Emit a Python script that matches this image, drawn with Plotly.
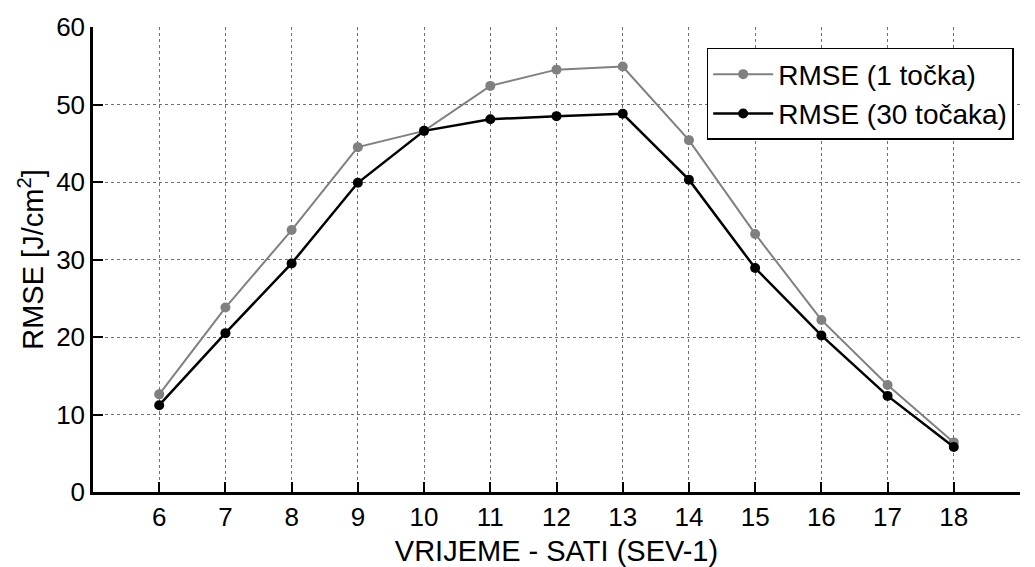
import plotly.graph_objects as go

hours = [6, 7, 8, 9, 10, 11, 12, 13, 14, 15, 16, 17, 18]
rmse_1 = [12.6, 23.8, 33.8, 44.5, 46.6, 52.4, 54.5, 54.9, 45.4, 33.3, 22.2, 13.8, 6.4]
rmse_30 = [11.2, 20.5, 29.5, 39.9, 46.6, 48.1, 48.5, 48.8, 40.3, 28.9, 20.2, 12.4, 5.8]
names = ["RMSE (1 točka)", "RMSE (30 točaka)"]

FONT = "Liberation Sans, Arial"

fig = go.Figure()
fig.add_trace(go.Scatter(x=hours, y=rmse_1, name=names[0], mode="lines+markers",
                         line=dict(color="#808080", width=2),
                         marker=dict(color="#808080", size=10)))
fig.add_trace(go.Scatter(x=hours, y=rmse_30, name=names[1], mode="lines+markers",
                         line=dict(color="#000000", width=2.5),
                         marker=dict(color="#000000", size=10)))

axis_common = dict(showline=True, linecolor="black", linewidth=2.5,
                   showgrid=True, gridcolor="#707070", griddash="dot", gridwidth=1,
                   ticks="inside", ticklen=10, tickwidth=2, tickcolor="black",
                   zeroline=False, mirror=False, automargin=False,
                   tickfont=dict(family=FONT, size=26, color="black"),
                   title_font=dict(family=FONT, size=29, color="black"))

fig.update_xaxes(range=[5, 19], tickvals=hours, ticktext=[str(h) for h in hours],
                 title_text="VRIJEME - SATI (SEV-1)", title_standoff=13, **axis_common)
fig.update_yaxes(range=[0, 60], tickvals=[0, 10, 20, 30, 40, 50, 60],
                 title_text="RMSE [J/cm<sup>2</sup>]", title_standoff=4, **axis_common)

fig.update_layout(
    width=1027, height=559,
    margin=dict(l=85, r=15, t=19, b=75),
    plot_bgcolor="white", paper_bgcolor="white",
    font=dict(family=FONT, color="black"),
    legend=dict(x=0.662, y=0.955, xanchor="left", yanchor="top",
                bgcolor="white", bordercolor="black", borderwidth=1.5,
                font=dict(family=FONT, size=28, color="black"),
                tracegroupgap=0, itemwidth=60),
    showlegend=True,
)

fig.write_html("out.html")
